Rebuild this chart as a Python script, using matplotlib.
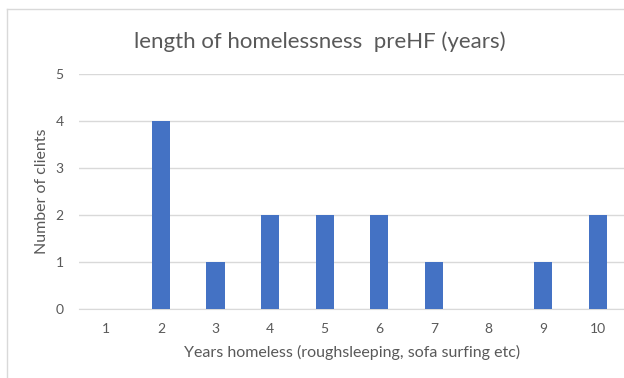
import matplotlib.pyplot as plt
from matplotlib.lines import Line2D

# years homeless before housing first, and how many clients in each
years = ['1', '2', '3', '4', '5', '6', '7', '8', '9', '10']
clients = [0, 4, 1, 2, 2, 2, 1, 0, 1, 2]

plt.rcParams['font.family'] = ['Lato', 'DejaVu Sans']
grey = '#595959'

fig = plt.figure(figsize=(6.24, 3.78), dpi=100)
ax = fig.add_axes([79 / 624, 1 - 309 / 378, 546 / 624, 235 / 378])

x = range(len(years))
ax.bar(x, clients, width=0.33, color='#4472C4', zorder=3)

ax.set_xlim(-0.5, len(years) - 0.5)
ax.set_ylim(0, 5)
ax.set_xticks(list(x))
ax.set_xticklabels(years)
ax.set_yticks(range(6))
ax.grid(axis='y', color='#d9d9d9', linewidth=1, zorder=0)
for s in ['top', 'right', 'left']:
    ax.spines[s].set_visible(False)
ax.spines['bottom'].set_color('#d9d9d9')
ax.tick_params(length=0, colors=grey, labelsize=10)
ax.tick_params(axis='x', pad=10)
ax.tick_params(axis='y', pad=11)

ax.set_xlabel('Years homeless (roughsleeping, sofa surfing etc)', fontsize=11.5, color=grey, labelpad=7)
ax.set_ylabel('Number of clients', fontsize=11.5, color=grey)
ax.yaxis.set_label_coords(-30 / 546, 0.5)

fig.text(320 / 624, 1 - 42 / 378, 'length of homelessness  preHF (years)', ha='center', va='center',
         fontsize=16, color=grey)

# chart frame
fig.add_artist(Line2D([7 / 624, 7 / 624], [0, 1 - 9 / 378], color='#d9d9d9', linewidth=1))
fig.add_artist(Line2D([7 / 624, 1], [1 - 9 / 378, 1 - 9 / 378], color='#d9d9d9', linewidth=1))

fig.savefig('out.png', dpi=100)
